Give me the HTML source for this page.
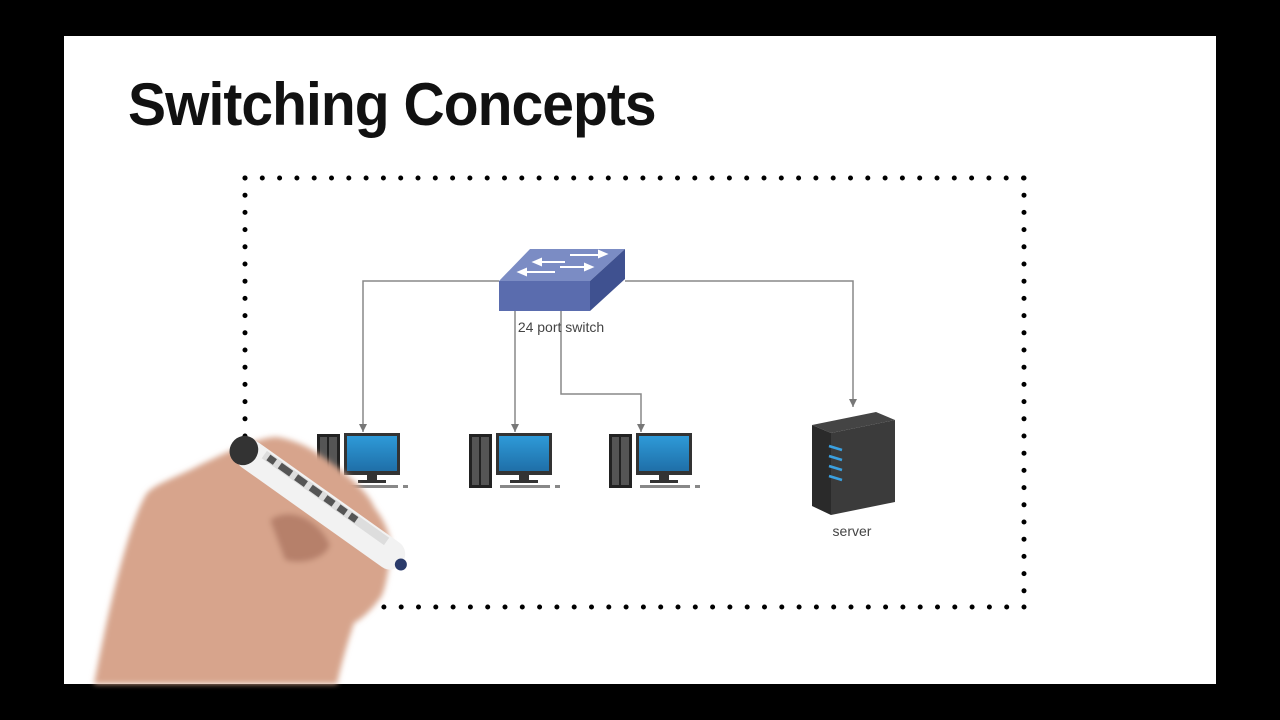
<!DOCTYPE html>
<html><head><meta charset="utf-8"><style>
html,body{margin:0;padding:0;background:#000;width:1280px;height:720px;overflow:hidden}
#p{position:absolute;left:64px;top:36px;width:1152px;height:648px;background:#fff}
.t{position:absolute;left:128px;top:70px;font:bold 60px "Liberation Sans",sans-serif;color:#111;transform:scaleX(0.95);transform-origin:left top;letter-spacing:-1px;white-space:nowrap}
</style></head><body>
<div id="p"></div>
<div class="t">Switching Concepts</div>
<svg width="1280" height="720" style="position:absolute;left:0;top:0">
<defs>
<linearGradient id="scr" x1="0" y1="0" x2="0" y2="1"><stop offset="0" stop-color="#2e9ad8"/><stop offset="1" stop-color="#1f6fa8"/></linearGradient>
<filter id="bl"><feGaussianBlur stdDeviation="3"/></filter>
<marker id="a" markerWidth="10" markerHeight="10" refX="9" refY="5" orient="auto" markerUnits="userSpaceOnUse"><path d="M1,1 L9,5 L1,9 Z" fill="#777"/></marker>
</defs>
<!-- dotted border -->
<line x1="245" y1="178" x2="1024" y2="178" stroke="#000" stroke-width="5" stroke-linecap="round" stroke-dasharray="0 17.3"/>
<line x1="1024" y1="178" x2="1024" y2="607" stroke="#000" stroke-width="5" stroke-linecap="round" stroke-dasharray="0 17.2"/>
<line x1="245" y1="178" x2="245" y2="440" stroke="#000" stroke-width="5" stroke-linecap="round" stroke-dasharray="0 17.2"/>
<line x1="1024" y1="607" x2="368" y2="607" stroke="#000" stroke-width="5" stroke-linecap="round" stroke-dasharray="0 17.3"/>
<!-- connectors -->
<g stroke="#888" stroke-width="1.5" fill="none">
<polyline points="499,281 363,281 363,432" marker-end="url(#a)"/>
<polyline points="515,311 515,432" marker-end="url(#a)"/>
<polyline points="561,311 561,394 641,394 641,432" marker-end="url(#a)"/>
<polyline points="625,281 853,281 853,407" marker-end="url(#a)"/>
</g>
<!-- switch -->
<polygon points="499,281 530,249 625,249 590,281" fill="#7b8cc4"/>
<rect x="499" y="281" width="91" height="30" fill="#5a6cae"/>
<polygon points="590,281 625,249 625,279 590,311" fill="#3f5190"/>
<g stroke="#fff" stroke-width="2" fill="#fff">
<line x1="540" y1="262" x2="565" y2="262"/><path d="M534,262 l7,-3 v6z"/>
<line x1="570" y1="255" x2="600" y2="255"/><path d="M606,254 l-7,-3 v6z"/>
<line x1="525" y1="272" x2="555" y2="272"/><path d="M519,272 l7,-3 v6z"/>
<line x1="560" y1="267" x2="585" y2="267"/><path d="M592,267 l-7,-3 v6z"/>
</g>
<text x="561" y="332" font-family="Liberation Sans,sans-serif" font-size="14" fill="#444" text-anchor="middle">24 port switch</text>
<!-- PCs -->
<g id="pc">
<rect x="469" y="434" width="23" height="54" fill="#222"/>
<rect x="472" y="437" width="7" height="48" fill="#555"/><rect x="481" y="437" width="8" height="48" fill="#555"/>
<rect x="496" y="433" width="56" height="42" fill="#333"/>
<rect x="499" y="436" width="50" height="35" fill="url(#scr)"/>
<rect x="519" y="475" width="10" height="6" fill="#333"/>
<rect x="510" y="480" width="28" height="3" fill="#333"/>
<rect x="500" y="485" width="50" height="3" fill="#888"/>
<rect x="555" y="485" width="5" height="3" fill="#888"/>
</g>
<use href="#pc" x="140"/>
<use href="#pc" x="-152"/>
<!-- server -->
<polygon points="812,425 876,412 895,420 831,433" fill="#444"/>
<polygon points="812,425 831,433 831,515 812,506" fill="#2a2a2a"/>
<polygon points="831,433 895,420 895,502 831,515" fill="#3b3b3b"/>
<g stroke="#3aa0e0" stroke-width="2.5"><line x1="829" y1="446" x2="842" y2="450"/><line x1="829" y1="456" x2="842" y2="460"/><line x1="829" y1="466" x2="842" y2="470"/><line x1="829" y1="476" x2="842" y2="480"/></g>
<text x="852" y="536" font-family="Liberation Sans,sans-serif" font-size="14" fill="#444" text-anchor="middle">server</text>
<!-- hand -->
<g filter="url(#bl)">
<path d="M94,684 C110,600 130,520 147,493 C155,485 164,482 190,470 C230,450 260,437 277,437 C295,440 310,448 317,453 C350,475 370,495 374,507 C388,525 391,540 391,550 C388,575 385,590 381,597 C370,612 360,620 354,623 C345,650 340,670 337,684 Z" fill="#d7a48c"/>
<path d="M270,520 C290,505 320,520 330,545 C325,560 300,565 285,560 Z" fill="#a8705c" opacity="0.7"/>
</g>
<!-- marker -->
<g transform="translate(239,447) rotate(35.4)">
<rect x="0" y="-15" width="200" height="30" rx="14" fill="#f2f2f2"/>
<rect x="25" y="-13" width="150" height="9" fill="#ddd"/>
<g fill="#555"><rect x="30" y="-12" width="8" height="7"/><rect x="44" y="-12" width="14" height="7"/><rect x="64" y="-12" width="12" height="7"/><rect x="82" y="-12" width="12" height="7"/><rect x="100" y="-12" width="10" height="7"/><rect x="116" y="-12" width="9" height="7"/><rect x="130" y="-12" width="8" height="7"/></g>
<ellipse cx="6" cy="0" rx="14" ry="15" fill="#333"/>
<circle cx="200" cy="2" r="6" fill="#2a3a6a"/>
</g>
</svg>
</body></html>
